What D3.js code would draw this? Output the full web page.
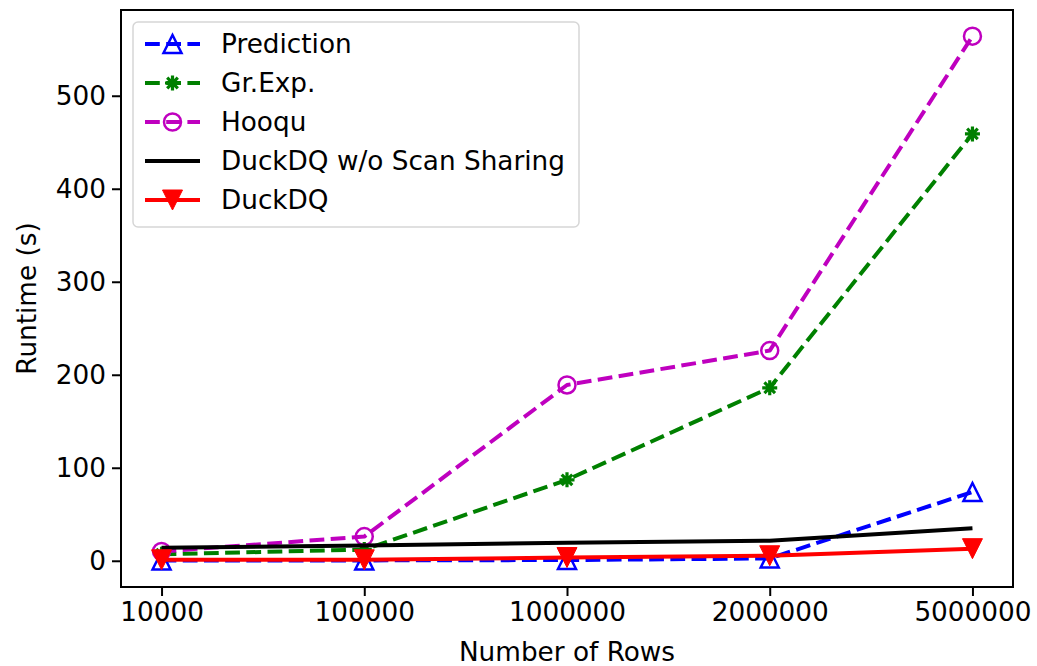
<!DOCTYPE html>
<html>
<head>
<meta charset="utf-8">
<script src="https://cdn.jsdelivr.net/npm/d3@7"></script>
<style>
  html, body { margin: 0; padding: 0; background: #fff; }
  svg { display: block; font-family: "DejaVu Sans", sans-serif; }
</style>
</head>
<body>
<svg id="chart" width="1037" height="666"></svg>
<script>
const categories = ["10000", "100000", "1000000", "2000000", "5000000"];
const yTicks = [0, 100, 200, 300, 400, 500];
const prediction = [0.3, 0.4, 0.8, 2.5, 74];
const grExp = [7, 12, 87, 186, 459];
const hooqu = [10, 26, 189, 226, 564];
const duckNoShare = [14, 16.5, 19.5, 21.5, 35];
const duckDQ = [1, 1, 3.5, 5.4, 13];

const seriesDefs = [
  { name: "Prediction", values: prediction, color: "#0000ff", dash: "14.8,6.4", marker: "triUp" },
  { name: "Gr.Exp.", values: grExp, color: "#008000", dash: "14.8,6.4", marker: "aster" },
  { name: "Hooqu", values: hooqu, color: "#bf00bf", dash: "14.8,6.4", marker: "circle" },
  { name: "DuckDQ w/o Scan Sharing", values: duckNoShare, color: "#000000", dash: null, marker: null },
  { name: "DuckDQ", values: duckDQ, color: "#ff0000", dash: null, marker: "triDown" }
];

const L = 121, R = 1013, T = 10, B = 587;
const svg = d3.select("#chart");
const fontSize = 26.3;

const x = d3.scalePoint().domain(categories).range([L, R]).padding(0.2);
const y = d3.scaleLinear().domain([-28.2, 592.2]).range([B, T]);

svg.append("clipPath").attr("id", "clip").append("rect")
  .attr("x", L).attr("y", T).attr("width", R - L).attr("height", B - T);
const plot = svg.append("g").attr("clip-path", "url(#clip)");

function drawMarker(g, type, color, cx, cy) {
  if (type === "triUp") {
    const s = 9;
    g.append("path").attr("d", `M${cx},${cy - s} L${cx - s},${cy + s} L${cx + s},${cy + s} Z`)
      .attr("fill", "none").attr("stroke", color).attr("stroke-width", 2.5).attr("stroke-linejoin", "miter");
  } else if (type === "triDown") {
    const s = 10;
    g.append("path").attr("d", `M${cx},${cy + s} L${cx - s},${cy - s} L${cx + s},${cy - s} Z`)
      .attr("fill", color).attr("stroke", color).attr("stroke-width", 1);
  } else if (type === "circle") {
    g.append("circle").attr("cx", cx).attr("cy", cy).attr("r", 8.5)
      .attr("fill", "none").attr("stroke", color).attr("stroke-width", 2.5);
  } else if (type === "aster") {
    const r = 7.5;
    let d = "";
    for (let i = 0; i < 4; i++) {
      const a = i * Math.PI / 4;
      d += `M${cx - r * Math.cos(a)},${cy - r * Math.sin(a)} L${cx + r * Math.cos(a)},${cy + r * Math.sin(a)} `;
    }
    g.append("path").attr("d", d).attr("stroke", color).attr("stroke-width", 3.2).attr("fill", "none");
    g.append("circle").attr("cx", cx).attr("cy", cy).attr("r", 3.5).attr("fill", color);
  }
}

const line = d3.line().x((d, i) => x(categories[i])).y(d => y(d));
seriesDefs.forEach(s => {
  const g = plot.append("g");
  g.append("path").datum(s.values).attr("d", line)
    .attr("fill", "none").attr("stroke", s.color).attr("stroke-width", 4)
    .attr("stroke-dasharray", s.dash).attr("stroke-linejoin", "round");
  if (s.marker) {
    s.values.forEach((v, i) => drawMarker(g, s.marker, s.color, x(categories[i]), y(v)));
  }
});

const xAxis = d3.axisBottom(x).tickSize(9).tickPadding(6);
const yAxis = d3.axisLeft(y).tickValues(yTicks).tickSize(9).tickPadding(6);

const gx = svg.append("g").attr("transform", `translate(0,${B})`).call(xAxis);
const gy = svg.append("g").attr("transform", `translate(${L},0)`).call(yAxis);
[gx, gy].forEach(g => {
  g.select(".domain").remove();
  g.selectAll(".tick line").attr("stroke", "#000").attr("stroke-width", 2);
  g.selectAll(".tick text").attr("fill", "#000").attr("font-size", fontSize)
    .attr("font-family", "DejaVu Sans, sans-serif");
});

svg.append("rect").attr("x", L).attr("y", T).attr("width", R - L).attr("height", B - T)
  .attr("fill", "none").attr("stroke", "#000").attr("stroke-width", 2);

svg.append("text").attr("x", (L + R) / 2).attr("y", 661).attr("text-anchor", "middle")
  .attr("font-size", fontSize).text("Number of Rows");
svg.append("text").attr("transform", `translate(36,${(T + B) / 2}) rotate(-90)`)
  .attr("text-anchor", "middle").attr("font-size", fontSize).text("Runtime (s)");

const lg = svg.append("g");
lg.append("rect").attr("x", 133).attr("y", 22).attr("width", 446).attr("height", 205)
  .attr("rx", 5).attr("fill", "#fff").attr("fill-opacity", 0.8)
  .attr("stroke", "#d6d6d6").attr("stroke-width", 1.5);
seriesDefs.forEach((s, i) => {
  const cy = 44 + i * 39;
  lg.append("line").attr("x1", 145).attr("x2", 200).attr("y1", cy).attr("y2", cy)
    .attr("stroke", s.color).attr("stroke-width", 4).attr("stroke-dasharray", s.dash);
  if (s.marker) drawMarker(lg, s.marker, s.color, 172.5, cy);
  lg.append("text").attr("x", 221).attr("y", cy).attr("dy", "0.36em")
    .attr("font-size", fontSize).text(s.name);
});
</script>
</body>
</html>
